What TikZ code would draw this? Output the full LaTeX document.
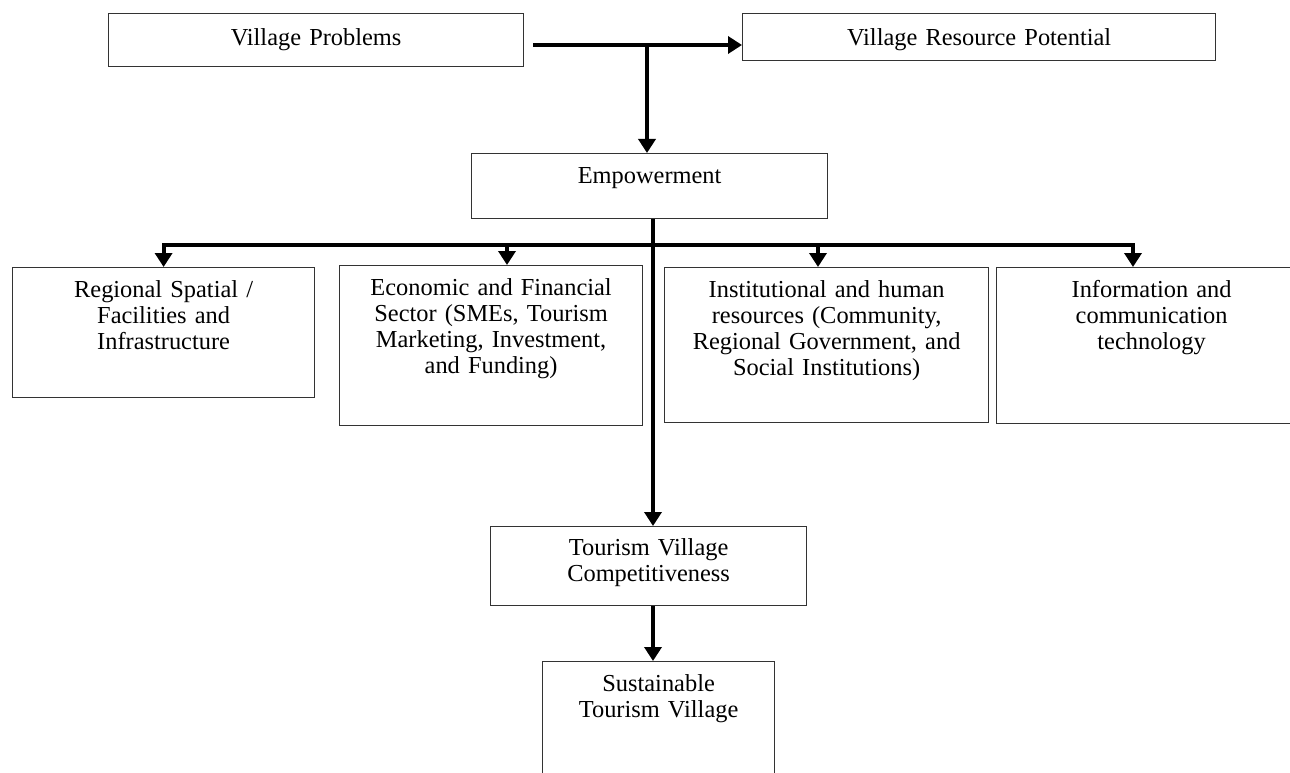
\documentclass[tikz,border=0pt]{standalone}
\usepackage{fontspec}
\setmainfont{Liberation Serif}
\usetikzlibrary{arrows.meta}

\begin{document}
\begin{tikzpicture}[x=1pt, y=-1pt]
	\tikzset{box/.style = {draw=black!80, line width=1.2pt, inner sep=0pt, anchor=north west, align=center, text height=30pt, font=\fontsize{24.4}{26}\selectfont}}
	\tikzset{edge/.style = {draw=black, line width=4pt, -{Triangle[length=14pt, width=17pt]}}}
	\useasboundingbox (0,0) rectangle (1290,773);
	\clip (0,0) rectangle (1290,773);
	\node[box, text width=415pt, text height=32pt, text depth=21pt] (prob) at (108,13) {Village Problems};
	\node[box, text width=473pt, text height=32pt, text depth=15pt] (res) at (742,13) {Village Resource Potential};
	\node[box, text width=356pt, text depth=35pt] (emp) at (471,153) {Empowerment};
	\node[box, text width=302pt, text depth=100pt] (reg) at (12,267) {Regional Spatial /\\Facilities and\\Infrastructure};
	\node[box, text width=303pt, text depth=130pt] (eco) at (339,265) {Economic and Financial\\Sector (SMEs, Tourism\\Marketing, Investment,\\and Funding)};
	\node[box, text width=324pt, text depth=125pt] (inst) at (664,267) {Institutional and human\\resources (Community,\\Regional Government, and\\Social Institutions)};
	\node[box, text width=310pt, text depth=126pt] (info) at (996,267) {Information and\\communication\\technology};
	\node[box, text width=316pt, text height=29pt, text depth=50pt] (tvc) at (490,526) {Tourism Village\\Competitiveness};
	\node[box, text width=232pt, text depth=90pt] (sus) at (542,661) {Sustainable\\Tourism Village};
	%edges
	\coordinate (start) at (533,45);
	\coordinate (down) at (647,45);
	\coordinate (split) at (653,245);
	\coordinate (b2) at (507,245);
	\coordinate (b3) at (818,245);
	\coordinate (busR) at (1133,245);
	\draw[edge] (start) -- (start -| res.west);
	\draw[edge] (down) -- (down |- emp.north);
	\draw[edge] (split) -| (reg.north);
	\draw[edge] (split) -| (busR |- info.north);
	\draw[edge] (b2) -- (b2 |- eco.north);
	\draw[edge] (b3) -- (b3 |- inst.north);
	\draw[edge, line width=4.5pt] (emp.south -| split) -- (tvc.north -| split);
	\draw[edge] (tvc.south -| split) -- (sus.north -| split);
\end{tikzpicture}
\end{document}
